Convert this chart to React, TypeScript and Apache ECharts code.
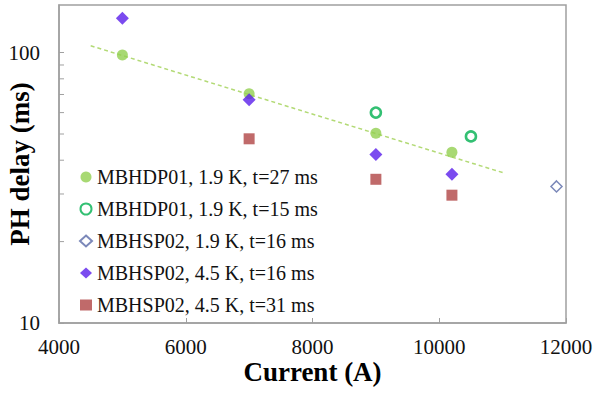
import React, { useEffect, useRef } from "react";
import * as echarts from "echarts";

const xTicks = { min: 4000, max: 12000, interval: 2000 };
const yRange = { min: 10, max: 150 };
const yMinorTicks = [20, 30, 40, 50, 60, 70, 80, 90];

const names = [
  "MBHDP01, 1.9 K, t=27 ms",
  "MBHDP01, 1.9 K, t=15 ms",
  "MBHSP02, 1.9 K, t=16 ms",
  "MBHSP02, 4.5 K, t=16 ms",
  "MBHSP02, 4.5 K, t=31 ms",
];

const hdp27: [number, number][] = [
  [5000, 98],
  [7000, 70.5],
  [9000, 50.3],
  [10200, 42.8],
];
const hdp15: [number, number][] = [
  [9000, 60],
  [10500, 49],
];
const hsp19: [number, number][] = [[11850, 32]];
const hsp45t16: [number, number][] = [
  [5000, 134],
  [7000, 67],
  [9000, 42],
  [10200, 35.5],
];
const hsp45t31: [number, number][] = [
  [7000, 48],
  [9000, 34],
  [10200, 29.7],
];
const trend: [number, number][] = [
  [4500, 106],
  [11000, 36],
];

const FONT = "'Liberation Serif', 'Times New Roman', serif";
const AXIS_GREY = "#a0a0a0";

export default function App() {
  const ref = useRef<HTMLDivElement>(null);
  useEffect(() => {
    if (!ref.current) return;
    const chart = echarts.init(ref.current, undefined, { renderer: "svg" });
    chart.setOption({
      animation: false,
      backgroundColor: "#fff",
      textStyle: { fontFamily: FONT },
      grid: {
        left: 59,
        right: 29,
        top: 5,
        bottom: 73,
        containLabel: false,
        outerBoundsMode: "none",
        show: true,
        borderColor: AXIS_GREY,
        borderWidth: 1.5,
      },
      legend: {
        orient: "vertical",
        left: 74,
        top: 162,
        itemGap: 12,
        itemWidth: 12,
        itemHeight: 11,
        data: names,
        textStyle: { fontFamily: FONT, fontSize: 20, color: "#111" },
      },
      xAxis: {
        type: "value",
        min: xTicks.min,
        max: xTicks.max,
        interval: xTicks.interval,
        name: "Current (A)",
        nameLocation: "middle",
        nameGap: 35,
        nameMoveOverlap: false,
        nameTextStyle: { fontFamily: FONT, fontSize: 27, fontWeight: "bold", color: "#000" },
        axisLine: { show: true, lineStyle: { color: AXIS_GREY, width: 1.5 } },
        axisTick: { show: true, inside: true, length: 5, lineStyle: { color: AXIS_GREY } },
        axisLabel: {
          fontFamily: FONT,
          fontSize: 21,
          color: "#111",
          margin: 13,
          formatter: (v: number) => String(v),
        },
        splitLine: { show: false },
      },
      yAxis: {
        type: "log",
        logBase: 10,
        min: yRange.min,
        max: yRange.max,
        name: "PH delay (ms)",
        nameLocation: "middle",
        nameGap: 26,
        nameMoveOverlap: false,
        nameTextStyle: { fontFamily: FONT, fontSize: 27, fontWeight: "bold", color: "#000" },
        axisLine: { show: true, lineStyle: { color: AXIS_GREY, width: 1.5 } },
        axisTick: { show: true, inside: true, length: 5, lineStyle: { color: AXIS_GREY } },
        axisLabel: {
          fontFamily: FONT,
          fontSize: 21,
          color: "#111",
          margin: 19,
          showMaxLabel: false,
          formatter: (v: number) => String(Math.round(v)),
        },
        splitLine: { show: false },
      },
      series: [
        {
          type: "line",
          name: "trend",
          data: trend,
          symbol: "none",
          silent: true,
          lineStyle: { color: "#b3da76", width: 1.5, type: [4, 3] },
          z: 1,
        },
        {
          type: "custom",
          name: "minorTicks",
          silent: true,
          clip: false,
          data: yMinorTicks.map((v) => [xTicks.min, v]),
          renderItem: (params: any, api: any) => {
            const p = api.coord([api.value(0), api.value(1)]);
            return {
              type: "line",
              shape: { x1: p[0], y1: p[1], x2: p[0] + 5, y2: p[1] },
              style: { stroke: AXIS_GREY, lineWidth: 1 },
            };
          },
        },
        {
          type: "scatter",
          name: names[0],
          data: hdp27,
          symbol: "circle",
          symbolSize: 11,
          itemStyle: { color: "#92d050" },
          z: 3,
        },
        {
          type: "scatter",
          name: names[1],
          data: hdp15,
          symbol: "circle",
          symbolSize: 10,
          itemStyle: { color: "#ffffff", borderColor: "#00b050", borderWidth: 2.6 },
          z: 3,
        },
        {
          type: "scatter",
          name: names[2],
          data: hsp19,
          symbol: "diamond",
          symbolSize: 11,
          itemStyle: { color: "#ffffff", borderColor: "#5a6aa8", borderWidth: 1.5 },
          z: 3,
        },
        {
          type: "scatter",
          name: names[3],
          data: hsp45t16,
          symbol: "diamond",
          symbolSize: 13,
          itemStyle: { color: "#5a1eeb" },
          z: 4,
        },
        {
          type: "scatter",
          name: names[4],
          data: hsp45t31,
          symbol: "rect",
          symbolSize: 11,
          itemStyle: { color: "#b04545" },
          z: 3,
        },
      ],
    });
    return () => chart.dispose();
  }, []);
  return <div ref={ref} style={{ width: 595, height: 396, position: "fixed", left: 0, top: 0 }} />;
}
